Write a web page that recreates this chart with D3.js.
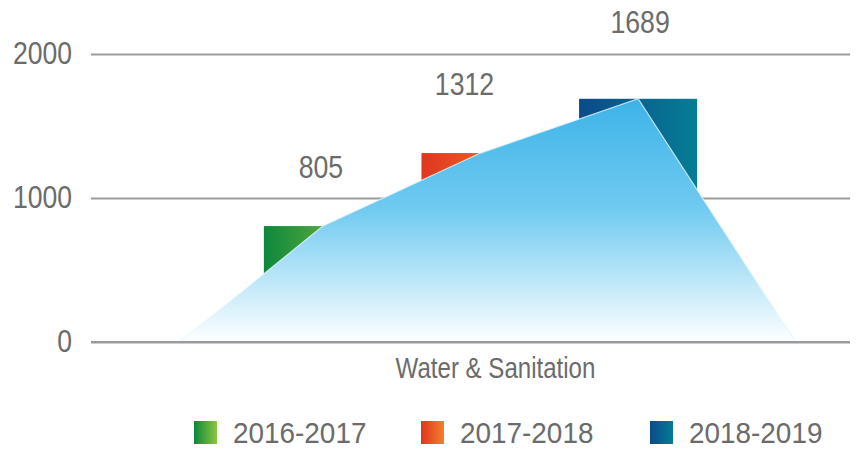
<!DOCTYPE html>
<html>
<head>
<meta charset="utf-8">
<script src="https://cdn.jsdelivr.net/npm/d3@7"></script>
<style>
  html, body { margin: 0; padding: 0; background: #ffffff; }
  svg { display: block; }
  text { font-family: "Liberation Sans", Arial, sans-serif; fill: #6b6b6b; }
</style>
</head>
<body>
<svg id="chart" width="858" height="449"></svg>
<script>
// Spending by year, Water & Sanitation
const categories = ["Water & Sanitation"];
const series = ["2016-2017", "2017-2018", "2018-2019"];
const values = [805, 1312, 1689];
const yTicks = [0, 1000, 2000];

const plotLeft = 91, plotRight = 850;
const svg = d3.select("#chart");
const defs = svg.append("defs");

// squeeze text horizontally to get a condensed face
function condense(sel, k) {
  sel.each(function () {
    const len = this.getComputedTextLength();
    d3.select(this).attr("textLength", len * k).attr("lengthAdjust", "spacingAndGlyphs");
  });
}

// bar fills: horizontal gradients, dark on the left
const barGrad = [
  ["#0d873c", "#8dc63f"],
  ["#df371f", "#f27f2c"],
  ["#0b4a8a", "#057d95"]
];
barGrad.forEach((c, i) => {
  const g = defs.append("linearGradient").attr("id", "bar" + i)
    .attr("x1", "0%").attr("x2", "100%").attr("y1", "0%").attr("y2", "0%");
  g.append("stop").attr("offset", "0%").attr("stop-color", c[0]);
  g.append("stop").attr("offset", "100%").attr("stop-color", c[1]);
});

const y = d3.scaleLinear().domain([0, 2000]).range([342, 54]);

const x0 = d3.scaleBand().domain(categories).range([111, plotRight]);
const x1 = d3.scaleBand().domain(series).range([0, x0.bandwidth()])
  .paddingInner(0.251).paddingOuter(0.97);

// area fill: sky blue fading to white at the baseline
const ag = defs.append("linearGradient").attr("id", "areaGrad")
  .attr("gradientUnits", "userSpaceOnUse")
  .attr("x1", 0).attr("x2", 0).attr("y1", y(1689)).attr("y2", y(0));
ag.append("stop").attr("offset", "0%").attr("stop-color", "#3db3e8");
ag.append("stop").attr("offset", "45%").attr("stop-color", "#70caf0");
ag.append("stop").attr("offset", "100%").attr("stop-color", "#ffffff");

// gridlines + y tick labels
const yAxis = d3.axisLeft(y).tickValues(yTicks).tickFormat(d3.format("d"))
  .tickSize(-(plotRight - plotLeft)).tickPadding(19);
const ga = svg.append("g").attr("transform", `translate(${plotLeft},0)`).call(yAxis);
ga.select(".domain").remove();
ga.attr("font-family", null);
ga.selectAll(".tick line").attr("stroke", "#9b9b9b").attr("stroke-width", 2);
ga.selectAll(".tick text").attr("font-size", 32).attr("dy", "0.3em").style("fill", "#6b6b6b");
condense(ga.selectAll(".tick text"), 0.83);

const cx = x0(categories[0]);
const bw = x1.bandwidth();
const step = x1.step();

// bars
svg.append("g").selectAll("rect").data(values).join("rect")
  .attr("x", (d, i) => cx + x1(series[i]))
  .attr("y", d => y(d))
  .attr("width", bw)
  .attr("height", d => y(0) - y(d))
  .attr("fill", (d, i) => `url(#bar${i})`);

// overlay area passing through the bar-top centres
const centers = series.map(s => cx + x1(s) + bw / 2);
const pts = [[centers[0] - step * 0.91, 0]]
  .concat(values.map((v, i) => [centers[i], v]))
  .concat([[centers[centers.length - 1] + step, 0]]);

const area = d3.area().x(d => d[0]).y0(y(0)).y1(d => y(d[1]));
svg.append("path").datum(pts)
  .attr("d", area)
  .attr("fill", "url(#areaGrad)")
  .attr("stroke", "#e6f6fd")
  .attr("stroke-width", 1.2)
  .attr("stroke-opacity", 0.8);

// baseline on top
svg.append("line").attr("x1", plotLeft).attr("x2", plotRight)
  .attr("y1", y(0)).attr("y2", y(0))
  .attr("stroke", "#9b9b9b").attr("stroke-width", 2);

// value labels; they rise a little further above taller bars
const labelNudge = [-2, -16, 2];
const vl = svg.append("g").selectAll("text").data(values).join("text")
  .attr("x", (d, i) => centers[i] + labelNudge[i])
  .attr("y", d => y(d) - 48 - (d - values[0]) * 0.02)
  .attr("text-anchor", "middle")
  .attr("font-size", 31)
  .text(d => d);
condense(vl, 0.86);

// category label
const cl = svg.append("text")
  .attr("x", cx + x0.bandwidth() / 2 + 15)
  .attr("y", 378)
  .attr("text-anchor", "middle")
  .attr("font-size", 29)
  .text(categories[0]);
condense(cl, 0.83);

// legend
const legX = [194, 421, 650];
const leg = svg.append("g").selectAll("g").data(series).join("g")
  .attr("transform", (d, i) => `translate(${legX[i]},421)`);
leg.append("rect").attr("width", 23).attr("height", 23)
  .attr("fill", (d, i) => `url(#bar${i})`);
const lt = leg.append("text").attr("x", 39).attr("y", 21.5)
  .attr("font-size", 30)
  .text(d => d);
condense(lt, 0.93);
</script>
</body>
</html>
